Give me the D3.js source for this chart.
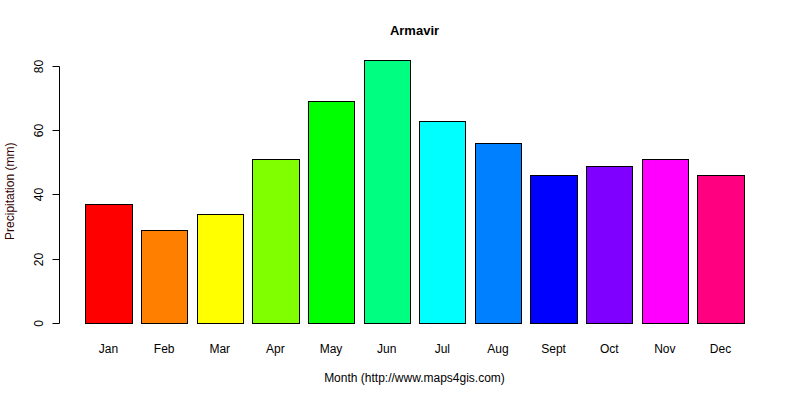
<!DOCTYPE html>
<html>
<head>
<meta charset="utf-8">
<script src="https://cdn.jsdelivr.net/npm/d3@7"></script>
<style>
  body { margin: 0; background: #fff; }
  svg { font-family: "Liberation Sans", Arial, sans-serif; }
</style>
</head>
<body>
<svg id="chart" width="800" height="400"></svg>
<script>
const months = ["Jan", "Feb", "Mar", "Apr", "May", "Jun", "Jul", "Aug", "Sept", "Oct", "Nov", "Dec"];
const precip = [37, 29, 34, 51, 69, 82, 63, 56, 46, 49, 51, 46];
const barColors = ["#FF0000", "#FF8000", "#FFFF00", "#80FF00", "#00FF00", "#00FF80",
                   "#00FFFF", "#0080FF", "#0000FF", "#8000FF", "#FF00FF", "#FF0080"];
const yTicks = [0, 20, 40, 60, 80];

const width = 800, height = 400;
const plot = { left: 59, right: 770, top: 49, bottom: 333.5 };

const svg = d3.select("#chart");

// R barplot geometry: width 1, space 0.2, axes extended by 4%
const space = 0.2;
const xmax = months.length * (1 + space);
const xpad = (xmax - space) * 0.04;
const x = d3.scaleLinear()
  .domain([space - xpad, xmax + xpad])
  .range([plot.left, plot.right]);

const ymax = d3.max(precip);
const y = d3.scaleLinear()
  .domain([-ymax * 0.04, ymax * 1.04])
  .range([plot.bottom, plot.top]);

// bars
svg.append("g")
  .selectAll("rect")
  .data(precip)
  .join("rect")
  .attr("x", (d, i) => Math.round(x(space + i * (1 + space))) + 0.5)
  .attr("width", (d, i) => Math.round(x(space + i * (1 + space) + 1)) - Math.round(x(space + i * (1 + space))))
  .attr("y", d => Math.round(y(d)) + 0.5)
  .attr("height", d => Math.round(y(0)) - Math.round(y(d)))
  .attr("fill", (d, i) => barColors[i])
  .attr("stroke", "#000")
  .attr("stroke-width", 1);

// month labels
svg.append("g")
  .selectAll("text")
  .data(months)
  .join("text")
  .attr("x", (d, i) => x(space + i * (1 + space) + 0.5))
  .attr("y", 353)
  .attr("text-anchor", "middle")
  .attr("font-size", 12)
  .attr("fill", "#000")
  .text(d => d);

// y axis
const yAxis = svg.append("g")
  .attr("transform", `translate(${plot.left + 0.5},0.5)`)
  .call(d3.axisLeft(y).tickValues(yTicks).tickSize(7).tickPadding(0).tickSizeOuter(0));
yAxis.select(".domain")
  .attr("d", `M0,${Math.round(y(0))}V${Math.round(y(80))}`)
  .attr("stroke", "#000");
yAxis.selectAll(".tick line").attr("stroke", "#000");
yAxis.selectAll(".tick").attr("transform", d => `translate(0,${Math.round(y(d))})`);
yAxis.selectAll(".tick text")
  .attr("font-family", "Liberation Sans, Arial, sans-serif")
  .attr("font-size", 12)
  .attr("fill", "#000")
  .attr("x", null).attr("dy", null)
  .attr("text-anchor", "middle")
  .attr("transform", "translate(-17,0) rotate(-90)");

// title
svg.append("text")
  .attr("x", (plot.left + plot.right) / 2)
  .attr("y", 35)
  .attr("text-anchor", "middle")
  .attr("font-size", 13)
  .attr("font-weight", "bold")
  .text("Armavir");

// x label
svg.append("text")
  .attr("x", (plot.left + plot.right) / 2)
  .attr("y", 382)
  .attr("text-anchor", "middle")
  .attr("font-size", 12)
  .text("Month (http://www.maps4gis.com)");

// y label
svg.append("text")
  .attr("transform", `translate(14,${(plot.top + plot.bottom) / 2}) rotate(-90)`)
  .attr("text-anchor", "middle")
  .attr("font-size", 12)
  .attr("fill", "#300")
  .text("Precipitation (mm)");
</script>
</body>
</html>
